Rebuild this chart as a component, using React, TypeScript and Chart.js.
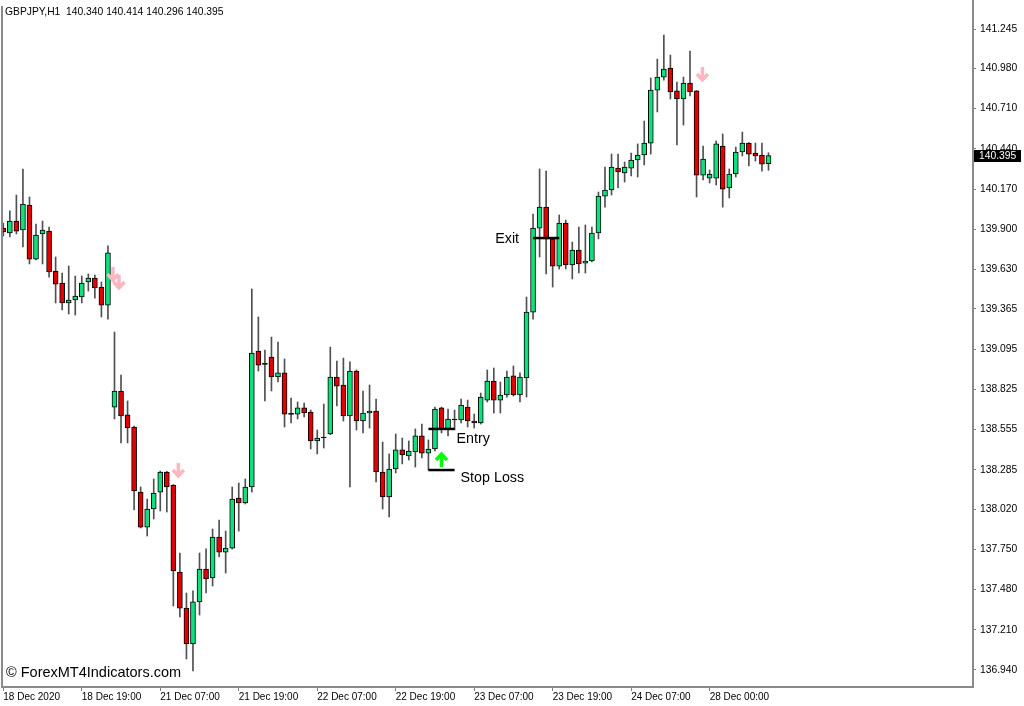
import { useEffect, useRef } from "react";
import { Chart, registerables } from "chart.js";

Chart.register(...registerables);

const chartTitle = "GBPJPY,H1  140.340 140.414 140.296 140.395";
const watermark = "\u00A9 ForexMT4Indicators.com";
const annotationLabels = ["Entry", "Stop Loss", "Exit"];

const xTickBars = [0, 12, 24, 36, 48, 60, 72, 84, 96, 108];
const xTickLabels = [
  "18 Dec 2020", "18 Dec 19:00", "21 Dec 07:00", "21 Dec 19:00", "22 Dec 07:00",
  "22 Dec 19:00", "23 Dec 07:00", "23 Dec 19:00", "24 Dec 07:00", "28 Dec 00:00",
];
const yTickValues = [
  141.245, 140.98, 140.71, 140.44, 140.17, 139.9, 139.63, 139.365, 139.095,
  138.825, 138.555, 138.285, 138.02, 137.75, 137.48, 137.21, 136.94,
];

const opens = [
  139.908, 139.875, 139.955, 139.895, 140.063, 139.700, 139.868, 139.888, 139.620, 139.539,
  139.405, 139.425, 139.445, 139.546, 139.573, 139.512, 139.391, 138.706, 138.814, 138.653,
  138.572, 138.135, 137.900, 138.021, 138.135, 138.270, 138.182, 137.598, 137.356, 137.115,
  137.397, 137.618, 137.558, 137.833, 137.732, 137.759, 138.095, 138.062, 138.169, 139.082,
  138.995, 139.042, 138.908, 138.935, 138.659, 138.659, 138.700, 138.673, 138.478, 138.498,
  138.525, 138.908, 138.854, 138.646, 138.948, 138.612, 138.666, 138.679, 138.270, 138.102,
  138.290, 138.418, 138.377, 138.404, 138.512, 138.397, 138.424, 138.700, 138.559, 138.619,
  138.619, 138.706, 138.612, 138.599, 138.753, 138.881, 138.753, 138.787, 138.915, 138.787,
  138.901, 139.344, 139.908, 140.049, 139.835, 139.653, 139.942, 139.660, 139.761, 139.673,
  139.687, 139.875, 140.123, 140.164, 140.311, 140.278, 140.311, 140.365, 140.399, 140.479,
  140.835, 140.922, 140.983, 140.829, 140.775, 140.882, 140.829, 140.264, 140.244, 140.244,
  140.459, 140.177, 140.271, 140.419, 140.479, 140.412, 140.399, 140.340,
];
const highs = [
  139.942, 140.023, 140.130, 140.305, 140.117, 139.935, 139.955, 139.915, 139.714, 139.606,
  139.653, 139.586, 139.586, 139.600, 139.593, 139.546, 139.788, 139.210, 138.921, 138.747,
  138.579, 138.169, 138.088, 138.223, 138.276, 138.274, 138.185, 137.726, 137.457, 137.471,
  137.726, 137.753, 137.887, 137.947, 137.873, 138.169, 138.196, 138.223, 139.499, 139.311,
  139.089, 139.176, 139.143, 139.029, 138.767, 138.740, 138.733, 138.686, 138.552, 138.726,
  139.109, 139.015, 139.035, 139.009, 138.955, 138.814, 138.854, 138.760, 138.471, 138.391,
  138.525, 138.498, 138.478, 138.559, 138.592, 138.485, 138.706, 138.706, 138.693, 138.686,
  138.760, 138.753, 138.659, 138.800, 138.955, 138.968, 138.874, 138.948, 138.982, 138.935,
  139.445, 140.002, 140.305, 140.291, 139.841, 139.996, 139.962, 139.814, 139.915, 139.929,
  139.915, 140.150, 140.318, 140.405, 140.405, 140.352, 140.412, 140.473, 140.627, 140.916,
  141.043, 141.205, 141.070, 140.889, 140.922, 141.097, 140.832, 140.459, 140.298, 140.493,
  140.540, 140.305, 140.452, 140.553, 140.482, 140.479, 140.479, 140.414,
];
const lows = [
  139.855, 139.848, 139.868, 139.781, 139.667, 139.694, 139.667, 139.579, 139.405, 139.358,
  139.331, 139.324, 139.405, 139.485, 139.438, 139.311, 139.297, 138.626, 138.465, 138.465,
  138.015, 137.894, 137.840, 137.954, 138.008, 138.001, 137.370, 137.296, 137.014, 136.933,
  137.309, 137.457, 137.504, 137.699, 137.591, 137.752, 137.873, 138.055, 138.135, 138.948,
  138.747, 138.814, 138.874, 138.572, 138.599, 138.626, 138.639, 138.424, 138.391, 138.431,
  138.520, 138.713, 138.612, 138.169, 138.552, 138.532, 138.565, 138.203, 138.021, 137.968,
  138.263, 138.324, 138.350, 138.303, 138.364, 138.283, 138.411, 138.532, 138.512, 138.552,
  138.599, 138.572, 138.565, 138.592, 138.740, 138.666, 138.666, 138.773, 138.780, 138.740,
  138.773, 139.297, 139.714, 139.600, 139.512, 139.633, 139.633, 139.566, 139.606, 139.606,
  139.680, 139.835, 140.049, 140.130, 140.177, 140.217, 140.258, 140.251, 140.332, 140.405,
  140.688, 140.902, 140.775, 140.466, 140.600, 140.795, 140.117, 140.231, 140.211, 140.197,
  140.049, 140.110, 140.251, 140.392, 140.325, 140.358, 140.291, 140.296,
];
const closes = [
  139.882, 139.955, 139.888, 140.070, 139.700, 139.861, 139.895, 139.613, 139.532, 139.405,
  139.425, 139.452, 139.539, 139.573, 139.506, 139.391, 139.741, 138.814, 138.646, 138.565,
  138.142, 137.900, 138.021, 138.129, 138.270, 138.169, 137.605, 137.356, 137.115, 137.397,
  137.618, 137.551, 137.833, 137.732, 137.759, 138.088, 138.062, 138.169, 139.069, 138.988,
  138.993, 138.908, 138.935, 138.659, 138.657, 138.700, 138.666, 138.478, 138.498, 138.499,
  138.908, 138.847, 138.646, 138.948, 138.612, 138.666, 138.679, 138.270, 138.102, 138.290,
  138.418, 138.384, 138.411, 138.512, 138.397, 138.424, 138.693, 138.559, 138.626, 138.620,
  138.720, 138.612, 138.599, 138.773, 138.881, 138.753, 138.787, 138.908, 138.787, 138.908,
  139.344, 139.908, 140.049, 139.835, 139.653, 139.942, 139.660, 139.761, 139.667, 139.687,
  139.875, 140.123, 140.164, 140.318, 140.285, 140.318, 140.365, 140.399, 140.479, 140.835,
  140.922, 140.976, 140.822, 140.775, 140.882, 140.822, 140.264, 140.372, 140.271, 140.473,
  140.170, 140.271, 140.419, 140.479, 140.405, 140.392, 140.338, 140.395,
];

const lastPrice = 140.395;
const entryPrice = 138.559;
const stopLossPrice = 138.283;
const exitPrice = 139.841;
const entryBars = [65, 69];
const exitBars = [81, 85];

const sellArrowBars = [16.77, 17.69, 26.76, 106.9];
const sellArrowPrices = [139.646, 139.593, 138.33, 140.99];
const buyArrowBars = [67];
const buyArrowPrices = [138.303];

const X_MIN = -0.2;
const X_MAX = 148.27;
const Y_MIN = 136.8258;
const Y_MAX = 141.4398;

const FONT = "'Liberation Sans', Arial, sans-serif";
const BULL = "#0fe07e";
const BEAR = "#e30000";

function drawArrow(ctx: CanvasRenderingContext2D, cx: number, y0: number, dir: number, color: string) {
  // dir = 1: pointing down, y0 is its top; dir = -1: pointing up, y0 is its bottom
  const len = 15;
  ctx.save();
  ctx.strokeStyle = color;
  ctx.lineWidth = 3.5;
  ctx.lineJoin = "miter";
  ctx.lineCap = "butt";
  ctx.beginPath();
  ctx.moveTo(cx, y0);
  ctx.lineTo(cx, y0 + dir * (len - 2));
  ctx.stroke();
  ctx.beginPath();
  ctx.moveTo(cx - 5.5, y0 + dir * (len - 8));
  ctx.lineTo(cx, y0 + dir * (len - 2));
  ctx.lineTo(cx + 5.5, y0 + dir * (len - 8));
  ctx.stroke();
  ctx.restore();
}

const overlayPlugin = {
  id: "mt4overlay",
  afterDraw(chart: any) {
    const { ctx, chartArea } = chart;
    const xs = chart.scales.x;
    const ys = chart.scales.y;
    ctx.save();
    // left frame line
    ctx.fillStyle = "#8a8a8a";
    ctx.fillRect(1, 6, 2, chartArea.bottom - 6);

    // title
    ctx.fillStyle = "#000";
    ctx.textAlign = "left";
    ctx.textBaseline = "alphabetic";
    ctx.font = `10.3px ${FONT}`;
    ctx.fillText(chartTitle, 5, 15);

    // watermark
    ctx.font = `14.5px ${FONT}`;
    ctx.fillText(watermark, chartArea.left + 4, chartArea.bottom - 10);

    // signal arrows
    sellArrowBars.forEach((b, i) => {
      drawArrow(ctx, xs.getPixelForValue(b), ys.getPixelForValue(sellArrowPrices[i]), 1, "#ffb6c1");
    });
    buyArrowBars.forEach((b, i) => {
      drawArrow(ctx, xs.getPixelForValue(b), ys.getPixelForValue(buyArrowPrices[i]), -1, "#00ff00");
    });

    // annotation texts
    ctx.fillStyle = "#000";
    ctx.font = `14.3px ${FONT}`;
    ctx.textAlign = "left";
    ctx.fillText(annotationLabels[0], xs.getPixelForValue(entryBars[1]) + 2, ys.getPixelForValue(entryPrice) + 14);
    ctx.fillText(annotationLabels[1], xs.getPixelForValue(entryBars[1]) + 6, ys.getPixelForValue(stopLossPrice) + 12);
    ctx.textAlign = "right";
    ctx.fillText(annotationLabels[2], xs.getPixelForValue(exitBars[0]) - 14, ys.getPixelForValue(exitPrice) + 5);

    // current price box
    const py = ys.getPixelForValue(lastPrice);
    ctx.fillStyle = "#000";
    ctx.fillRect(chartArea.right + 1, Math.round(py) - 6, 47, 12);
    ctx.fillStyle = "#fff";
    ctx.textAlign = "left";
    ctx.textBaseline = "middle";
    ctx.font = `10.3px ${FONT}`;
    ctx.fillText(lastPrice.toFixed(3), chartArea.right + 6, py + 0.5);
    ctx.restore();
  },
};

export default function App() {
  const canvasRef = useRef<HTMLCanvasElement | null>(null);

  useEffect(() => {
    if (!canvasRef.current) return;
    const bodyData = opens.map((o, i) => ({ x: i, y: [o, closes[i]] }));
    const wickData = lows.map((l, i) => ({ x: i, y: [l, highs[i]] }));
    const bodyColors = opens.map((o, i) => {
      const c = closes[i];
      if (Math.abs(c - o) < 0.004) return "#000";
      return c >= o ? BULL : BEAR;
    });

    const lineDs = (x0: number, x1: number, p: number) => ({
      type: "line",
      data: [
        { x: x0, y: p },
        { x: x1, y: p },
      ],
      borderColor: "#000",
      borderWidth: 2.5,
      pointRadius: 0,
      order: -1,
    });

    const chart = new Chart(canvasRef.current, {
      type: "bar",
      data: {
        datasets: [
          {
            data: bodyData,
            backgroundColor: bodyColors,
            borderColor: "#000",
            borderWidth: 1,
            borderSkipped: false,
            barThickness: 5,
            minBarLength: 1,
            grouped: false,
            order: 0,
          },
          {
            data: wickData,
            backgroundColor: "#505050",
            borderWidth: 0,
            barThickness: 1,
            grouped: false,
            order: 1,
          },
          lineDs(entryBars[0], entryBars[1], entryPrice),
          lineDs(entryBars[0], entryBars[1], stopLossPrice),
          lineDs(exitBars[0], exitBars[1], exitPrice),
        ] as any,
      },
      options: {
        animation: false,
        responsive: false,
        devicePixelRatio: 1,
        events: [],
        layout: { padding: { left: 2, top: 0, right: 0, bottom: 0 } },
        plugins: { legend: { display: false }, tooltip: { enabled: false } },
        scales: {
          x: {
            type: "linear",
            min: X_MIN,
            max: X_MAX,
            offset: false,
            bounds: "data",
            afterBuildTicks: (s: any) => {
              s.ticks = xTickBars.map((v) => ({ value: v }));
            },
            afterFit: (s: any) => {
              s.height = 19;
              s.paddingLeft = 0;
              s.paddingRight = 0;
            },
            grid: {
              display: true,
              drawOnChartArea: false,
              drawTicks: true,
              tickLength: 4,
              color: "#808080",
              offset: false,
            },
            border: { display: true, color: "#8a8a8a", width: 2 },
            ticks: {
              autoSkip: false,
              maxRotation: 0,
              minRotation: 0,
              align: "start",
              padding: 0,
              color: "#000",
              font: { family: FONT, size: 10 },
              callback: (v: any) => {
                const k = xTickBars.indexOf(Number(v));
                return k >= 0 ? xTickLabels[k] : "";
              },
            },
          },
          y: {
            type: "linear",
            position: "right",
            min: Y_MIN,
            max: Y_MAX,
            bounds: "data",
            afterBuildTicks: (s: any) => {
              s.ticks = yTickValues.map((v) => ({ value: v }));
            },
            afterFit: (s: any) => {
              s.width = 51;
              s.paddingTop = 0;
              s.paddingBottom = 0;
            },
            grid: {
              display: true,
              drawOnChartArea: false,
              drawTicks: true,
              tickLength: 3,
              color: "#808080",
            },
            border: { display: true, color: "#8a8a8a", width: 2 },
            ticks: {
              padding: 4,
              color: "#000",
              font: { family: FONT, size: 10.3 },
              callback: (v: any) => Number(v).toFixed(3),
            },
          },
        },
      } as any,
      plugins: [overlayPlugin],
    });
    return () => chart.destroy();
  }, []);

  return (
    <div style={{ position: "absolute", left: 0, top: 0, width: 1024, height: 706, background: "#fff" }}>
      <canvas ref={canvasRef} width={1024} height={706} style={{ display: "block" }} />
    </div>
  );
}
